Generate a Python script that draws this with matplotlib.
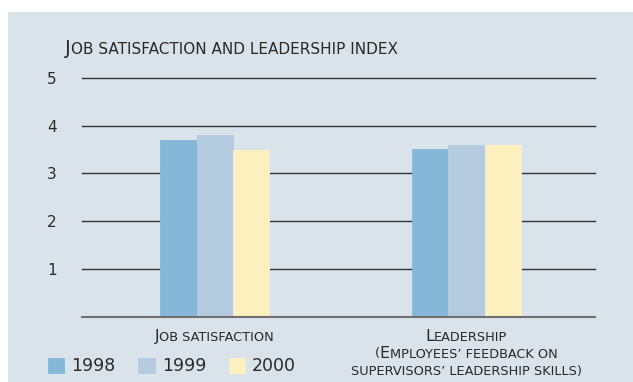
import numpy as np
import matplotlib
matplotlib.use('Agg')
import matplotlib.pyplot as plt
from matplotlib.patches import Rectangle
from matplotlib.transforms import IdentityTransform

title = 'Job satisfaction and leadership index'
categories = ['Job satisfaction', 'Leadership']
subtitles = [[], ['(Employees’ feedback on', 'supervisors’ leadership skills)']]
years = ['1998', '1999', '2000']
values_1998 = [3.70, 3.51]
values_1999 = [3.81, 3.60]
values_2000 = [3.49, 3.60]
yticks = [1, 2, 3, 4, 5]

colors = ['#85b8d8', '#b4cbe0', '#fdf0bf']
text_color = '#2a2a2a'
W, H = 633, 382

fig = plt.figure(figsize=(W / 100, H / 100), dpi=100)
fig.patch.set_facecolor('white')
# light panel behind the chart, white strip on top and left
fig.patches.append(Rectangle((8 / W, 0), 1 - 8 / W, 1 - 12 / H, transform=fig.transFigure,
                             facecolor='#dae2ea', edgecolor='none', zorder=-10))

ax = fig.add_axes([82 / W, 1 - 316.5 / H, (595 - 82) / W, (316.5 - 78) / H])
ax.set_facecolor('none')

x = np.arange(len(categories))
width = 0.143
bars = []
for i, vals in enumerate([values_1998, values_1999, values_2000]):
    bars.append(ax.bar(x + (i - 1) * width, vals, width, color=colors[i], edgecolor=colors[i],
                       lw=0.6, label=years[i], zorder=3))

for v in yticks:
    ax.axhline(v, color='#333333', lw=1.0, zorder=1, clip_on=False)
ax.axhline(0, color='#707070', lw=1.5, zorder=4, clip_on=False)

ax.set_xlim(-0.526, 1.51)
ax.set_ylim(0, 5)
ax.set_yticks(yticks)
ax.set_xticks([])
ax.tick_params(axis='y', length=0, pad=18, labelsize=11, labelcolor=text_color)
for s in ax.spines.values():
    s.set_visible(False)

renderer = fig.canvas.get_renderer()


def small_caps(xp, yp, s, big, small, ha='center'):
    # xp, yp in pixels, yp measured from the top; baseline alignment
    runs = []
    for ch in s:
        up = ch.isupper()
        if runs and runs[-1][1] == up:
            runs[-1][0] += ch
        else:
            runs.append([ch, up])
    parts = []
    total = 0
    for chunk, up in runs:
        t = fig.text(0, 0, chunk.upper(), fontsize=big if up else small, color=text_color,
                     va='baseline', ha='left', transform=IdentityTransform())
        w = t.get_window_extent(renderer).width + 0.4
        parts.append((t, w))
        total += w
    x0 = xp - total / 2 if ha == 'center' else xp
    for t, w in parts:
        t.set_position((x0, H - yp))
        x0 += w


small_caps(65, 54.5, title, 14, 11, ha='left')

for i, cat in enumerate(categories):
    cx = ax.transData.transform((x[i], 0))[0]
    small_caps(cx, 341, cat, 11.5, 9.3)
    for j, line in enumerate(subtitles[i]):
        small_caps(cx, 357.5 + j * 17, line, 11.5, 9.3)

fig.legend(handles=bars, labels=years, loc='lower left', bbox_to_anchor=(48 / W, 7 / H),
           ncol=3, frameon=False, fontsize=12.5, handlelength=0.95, handleheight=0.95,
           handletextpad=0.4, columnspacing=1.3, borderpad=0, borderaxespad=0,
           labelcolor=text_color)

fig.savefig('out.png', dpi=100)
